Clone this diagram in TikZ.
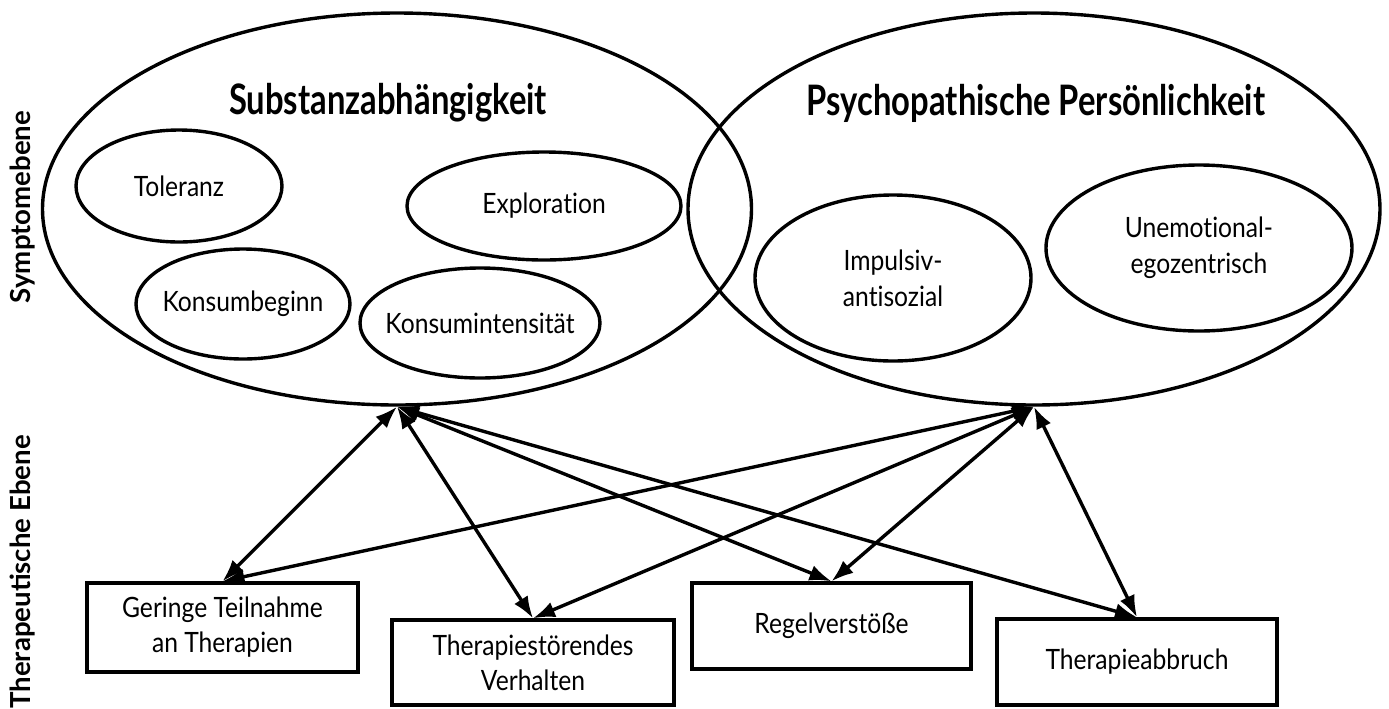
\documentclass[tikz,border=0pt]{standalone}
\usepackage{fontspec}
\setmainfont{Lato}
\newfontfamily\narrowfont[FakeStretch=0.88,Ligatures=NoCommon]{Lato}
\newfontfamily\headfont[FakeStretch=0.78,Ligatures=NoCommon]{Lato}
\usetikzlibrary{shapes.geometric,arrows.meta}

\begin{document}
\begin{tikzpicture}[x=0.5pt,y=-0.5pt,
  cloud/.style={shape=ellipse,draw=black,line width=1.7pt,inner sep=-12pt,align=center,font=\narrowfont\fontsize{14}{18}\selectfont},
  cloudB/.style={cloud},
  task/.style={shape=rectangle,draw=black,line width=1.7pt,inner sep=0pt,align=center,font=\narrowfont\fontsize{14}{17.5}\selectfont},
  heading/.style={font=\headfont\bfseries\fontsize{21}{24}\selectfont},
  level/.style={rotate=90,font=\bfseries\fontsize{13.8}{16}\selectfont},
  link/.style={line width=1.7pt,{Latex[length=11pt,width=8pt]}-{Latex[length=11pt,width=8pt]}}]
\useasboundingbox (0,0) rectangle (1389,708);

\node[level] (L1) at (23,207) {Symptomebene};
\node[level] (L2) at (23,572) {Therapeutische Ebene};

\node[cloudB,minimum width=354.5pt,minimum height=196pt] (SA) at (397,209) {};
\node[cloudB,minimum width=346pt,minimum height=196pt] (PP) at (1034,209) {};
\node[heading] (SAt) at (388,103) {Substanzabhängigkeit};
\node[heading] (PPt) at (1036,103) {Psychopathische Persönlichkeit};

\node[cloud,minimum width=103pt,minimum height=56pt] (T) at (179,186) {Toleranz};
\node[cloud,minimum width=137pt,minimum height=54pt] (E) at (544,206) {Exploration};
\node[cloud,minimum width=107pt,minimum height=55pt] (KB) at (243,304) {Konsumbeginn};
\node[cloud,minimum width=120pt,minimum height=55pt] (KI) at (480,323) {Konsumintensität};
\node[cloud,minimum width=138pt,minimum height=83pt] (IA) at (893,278) {Impulsiv-\\antisozial};
\node[cloud,minimum width=153pt,minimum height=83pt] (UE) at (1199,248) {Unemotional-\\egozentrisch};

\node[task,minimum width=135.5pt,minimum height=44.5pt] (G) at (222.5,627.5) {Geringe Teilnahme\\an Therapien};
\node[task,minimum width=141pt,minimum height=42.5pt] (TV) at (533,662.5) {Therapiestörendes\\Verhalten};
\node[task,minimum width=139.5pt,minimum height=43pt] (R) at (831.5,626) {Regelverstöße};
\node[task,minimum width=140pt,minimum height=43pt] (A) at (1137,662) {Therapieabbruch};

\draw[link] (SA.south) -- (G.north);
\draw[link] (SA.south) -- (TV.north);
\draw[link] (SA.south) -- (R.north);
\draw[link] (SA.south) -- (A.north);
\draw[link] (PP.south) -- (G.north);
\draw[link] (PP.south) -- (TV.north);
\draw[link] (PP.south) -- (R.north);
\draw[link] (PP.south) -- (A.north);
\end{tikzpicture}
\end{document}
